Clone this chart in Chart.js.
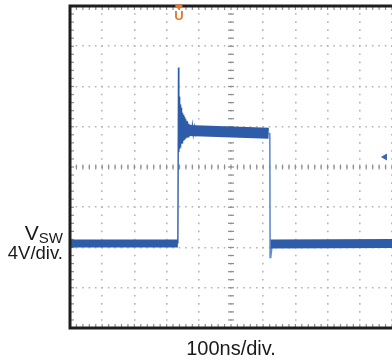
<!DOCTYPE html>
<html><head><meta charset="utf-8">
<script src="https://cdn.jsdelivr.net/npm/chart.js@4/dist/chart.umd.min.js"></script>
<style>
html,body{margin:0;padding:0;background:#fff;}
#wrap{position:relative;width:392px;height:363px;overflow:hidden;}
canvas{position:absolute;left:0;top:0;}
.lbl{position:absolute;font-family:'Liberation Sans',Arial,sans-serif;color:#1a1a1a;text-align:right;white-space:nowrap;}
</style></head><body>
<div id="wrap"><canvas id="c" width="392" height="363"></canvas>
<div class="lbl" style="right:329px;top:222px;font-size:21px;line-height:21px;">V<span style="font-size:15px;position:relative;top:3px;">SW</span></div>
<div class="lbl" style="right:329px;top:243px;font-size:18.5px;line-height:19px;">4V/div.</div>
</div>
<script>
// axes: time in ns (100 ns/div), voltage in V (4 V/div)
const timeMin = 0, timeMax = 1000, timeStep = 100;
const voltMin = -16, voltMax = 16, voltStep = 4;
const xTitle = '100ns/div.';

// switch-node waveform segments
const lowLeftT = [0, 335];
const lowLeftV = [-7.6, -7.6];
const ringT = [335, 337, 338, 339, 340, 341, 342, 343, 344, 345, 346, 347, 348, 349, 350, 351.5, 353, 354.5, 356, 357.5, 359, 361, 363, 365, 367, 369, 371, 374, 377, 380, 383, 387, 391, 395];
const ringV = [-7.6, 9.9, 1.5, 7.0, 1.8, 6.6, 2.0, 6.2, 2.1, 5.9, 2.3, 5.6, 2.4, 5.4, 2.5, 5.2, 2.6, 5.0, 2.7, 4.8, 2.8, 4.6, 2.9, 4.5, 3.0, 4.3, 3.1, 4.2, 3.1, 4.1, 3.2, 4.0, 3.3, 3.9];
const highT = [344, 480, 617];
const highV = [3.65, 3.5, 3.35];
const fallT = [617, 620.5, 621.5, 623, 625, 628];
const fallV = [3.35, 3.3, -9.0, -8.0, -8.5, -7.7];
const lowRightT = [623, 1000];
const lowRightV = [-7.65, -7.6];
// markers
const trigLevelT = [978];
const trigLevelV = [1.0];
const trigPosT = 338;

const pts = (T, V) => T.map((t, i) => ({x: t, y: V[i]}));
const band = '#2f5ca8', edge = '#5f8cd2';

const scopeGrid = {
  id: 'scopeGrid',
  beforeDatasetsDraw(chart) {
    const {ctx, chartArea: a, scales: {x, y}} = chart;
    const x0 = x.getPixelForValue((timeMin + timeMax) / 2);
    const y0 = y.getPixelForValue((voltMin + voltMax) / 2);
    ctx.save();
    ctx.strokeStyle = '#8e8e8e';
    ctx.lineWidth = 1.2;
    const line = (a1, b1, a2, b2) => { ctx.beginPath(); ctx.moveTo(a1, b1); ctx.lineTo(a2, b2); ctx.stroke(); };
    for (let t = timeMin; t <= timeMax + 1e-6; t += timeStep / 5) {
      const px = x.getPixelForValue(t);
      line(px, y0 - 2.5, px, y0 + 2.5);
      line(px, a.bottom, px, a.bottom - 4);
      line(px, a.top, px, a.top + 4);
    }
    for (let v = voltMin; v <= voltMax + 1e-6; v += voltStep / 5) {
      const py = y.getPixelForValue(v);
      line(x0 - 3, py, x0 + 3, py);
      line(a.left, py, a.left + 4, py);
    }
    ctx.restore();
  },
  afterDatasetsDraw(chart) {
    const {ctx, chartArea: a, scales: {x}} = chart;
    ctx.save();
    ctx.strokeStyle = '#1e1e1e';
    ctx.lineWidth = 3;
    ctx.strokeRect(a.left, a.top, a.right - a.left + 3, a.bottom - a.top);
    // trigger position marker
    const px = x.getPixelForValue(trigPosT);
    ctx.fillStyle = '#e8772e';
    ctx.fillRect(px - 3.5, a.top - 1.5, 7, 3);
    ctx.beginPath(); ctx.moveTo(px - 2.5, a.top + 1); ctx.lineTo(px + 2.5, a.top + 1); ctx.lineTo(px, a.top + 4); ctx.closePath(); ctx.fill();
    ctx.font = 'bold 13px "Liberation Sans", Arial, sans-serif';
    ctx.textAlign = 'center';
    ctx.textBaseline = 'top';
    ctx.fillText('U', px, a.top + 4);
    ctx.restore();
  }
};

new Chart(document.getElementById('c'), {
  type: 'scatter',
  data: {
    datasets: [
      {data: pts(lowLeftT, lowLeftV), showLine: true, borderColor: band, borderWidth: 8, pointRadius: 0, borderCapStyle: 'butt'},
      {data: pts(lowRightT, lowRightV), showLine: true, borderColor: band, borderWidth: 9, pointRadius: 0, borderCapStyle: 'butt'},
      {data: pts(highT, highV), showLine: true, borderColor: band, borderWidth: 11, pointRadius: 0, borderCapStyle: 'butt'},
      {data: pts(ringT, ringV), showLine: true, borderColor: band, borderWidth: 1.4, pointRadius: 0},
      {data: pts(fallT, fallV), showLine: true, borderColor: edge, borderWidth: 1.6, pointRadius: 0},
      {data: pts(trigLevelT, trigLevelV), showLine: false, pointStyle: 'triangle', rotation: -90, pointRadius: 4, backgroundColor: '#3a63b0', borderColor: '#3a63b0', borderWidth: 0}
    ]
  },
  options: {
    responsive: false,
    animation: false,
    events: [],
    layout: {autoPadding: false, padding: {left: 70, right: 0, top: 6, bottom: 0}},
    plugins: {legend: {display: false}, tooltip: {enabled: false}},
    elements: {line: {tension: 0}},
    scales: {
      x: {
        type: 'linear', min: timeMin, max: timeMax,
        ticks: {display: false, stepSize: timeStep},
        grid: {color: '#b5b5b5', lineWidth: 1.6, drawTicks: false},
        border: {display: false, dash: [1.6, 6.45], dashOffset: 0.8},
        title: {display: true, text: xTitle, color: '#1a1a1a', font: {family: '"Liberation Sans", Arial, sans-serif', size: 20}, padding: {top: 0, bottom: 2}},
        afterFit(s) { s.height = 35; }
      },
      y: {
        type: 'linear', min: voltMin, max: voltMax, display: true,
        ticks: {display: false, stepSize: voltStep},
        grid: {color: '#b5b5b5', lineWidth: 1.6, drawTicks: false},
        border: {display: false, dash: [1.6, 4.84], dashOffset: 0.8},
        afterFit(s) { s.width = 0; }
      }
    }
  },
  plugins: [scopeGrid]
});
</script>
</body></html>
